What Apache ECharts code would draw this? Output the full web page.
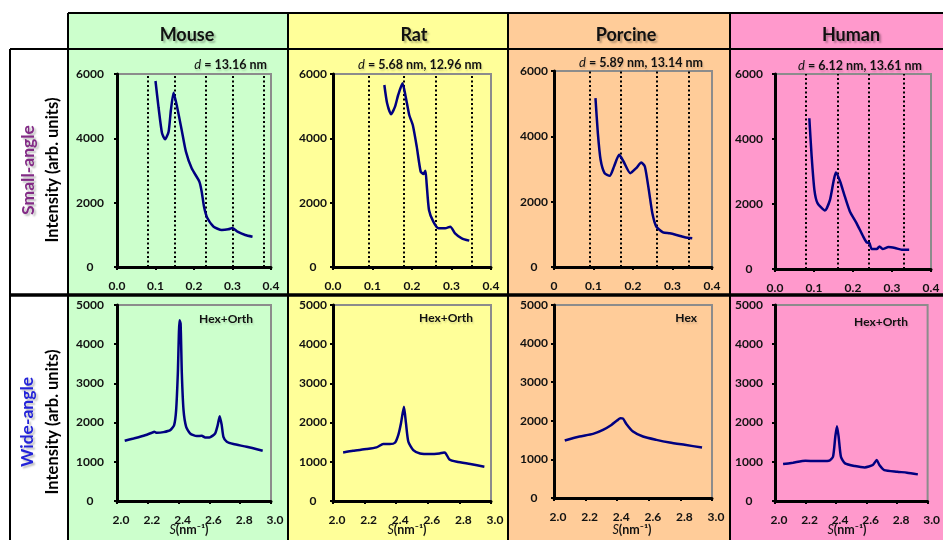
<!DOCTYPE html>
<html><head><meta charset="utf-8">
<script src="https://cdn.jsdelivr.net/npm/echarts@6/dist/echarts.min.js"></script>
<style>html,body{margin:0;padding:0;background:#fff}#c{width:943px;height:540px}</style>
</head><body><div id="c"></div>
<script>
// ---------- DATA ----------
const species = ['Mouse', 'Rat', 'Porcine', 'Human'];
const dLabels = ['13.16 nm', '5.68 nm, 12.96 nm', '5.89 nm, 13.14 nm', '6.12 nm, 13.61 nm'];
const phaseLabels = ['Hex+Orth', 'Hex+Orth', 'Hex', 'Hex+Orth'];
const smallTicksX = [0, 0.1, 0.2, 0.3, 0.4];
const wideTicksX = [2.0, 2.2, 2.4, 2.6, 2.8, 3.0];

// Small-angle: s (nm^-1) and intensity
const mouseSmallS = [0.100,0.108,0.117,0.125,0.134,0.140,0.147,0.156,0.168,0.179,0.194,0.214,0.220,0.226,0.235,0.251,0.272,0.289,0.300,0.313,0.333,0.352];
const mouseSmallI = [5782,4950,4155,3969,4207,4881,5420,4985,4259,3585,3067,2653,2342,1876,1513,1254,1150,1171,1212,1098,995,943];
const ratSmallS = [0.130,0.137,0.147,0.157,0.165,0.176,0.184,0.193,0.202,0.212,0.222,0.229,0.234,0.237,0.243,0.254,0.267,0.284,0.297,0.309,0.326,0.345];
const ratSmallI = [5658,5088,4746,4984,5347,5710,5295,4725,4415,3741,2964,2891,2995,2601,1772,1409,1202,1202,1254,1047,891,819];
const porcineSmallS = [0.105,0.111,0.118,0.128,0.141,0.152,0.165,0.176,0.193,0.208,0.221,0.230,0.240,0.249,0.259,0.276,0.293,0.310,0.331,0.350];
const porcineSmallI = [5172,4099,3281,2872,2790,3077,3434,3230,2872,3026,3199,3077,2361,1646,1237,1063,1032,981,910,879];
const humanSmallS = [0.088,0.094,0.101,0.109,0.128,0.141,0.150,0.156,0.167,0.179,0.192,0.209,0.226,0.235,0.242,0.248,0.261,0.268,0.276,0.291,0.308,0.325,0.344];
const humanSmallI = [4638,3461,2437,2027,1802,2130,2693,2969,2693,2232,1771,1413,1003,819,799,614,614,696,614,676,645,594,594];

// Bragg reflection positions (dotted lines)
const mouseLines = [0.076, 0.152, 0.228, 0.304, 0.380];
const ratLines = [0.088, 0.176, 0.264, 0.352];
const porcineLines = [0.085, 0.170, 0.255, 0.340];
const humanLines = [0.082, 0.163, 0.245, 0.327];

// Wide-angle
const mouseWideS = [2.050,2.108,2.173,2.227,2.242,2.259,2.302,2.346,2.371,2.384,2.395,2.406,2.413,2.421,2.432,2.449,2.475,2.518,2.551,2.572,2.600,2.637,2.654,2.667,2.680,2.691,2.713,2.756,2.842,2.946];
const mouseWideI = [1537,1596,1664,1740,1766,1740,1757,1808,1936,2317,3251,4610,4525,3251,2317,1893,1723,1655,1664,1621,1621,1723,1936,2165,1936,1638,1511,1452,1384,1282];
const ratWideS = [2.064,2.127,2.212,2.275,2.318,2.360,2.392,2.413,2.430,2.449,2.462,2.477,2.508,2.551,2.614,2.674,2.703,2.714,2.737,2.784,2.869,2.958];
const ratWideI = [1239,1282,1324,1367,1452,1452,1486,1681,1978,2402,1978,1511,1299,1214,1197,1214,1239,1214,1061,1002,942,874];
const porcineWideS = [2.068,2.162,2.247,2.310,2.363,2.399,2.420,2.437,2.458,2.500,2.563,2.648,2.732,2.827,2.937];
const porcineWideI = [1489,1592,1661,1764,1893,2005,2065,2057,1919,1721,1592,1506,1437,1377,1308];
const humanWideS = [2.053,2.118,2.199,2.267,2.353,2.380,2.395,2.406,2.417,2.432,2.459,2.524,2.588,2.641,2.667,2.684,2.716,2.801,2.865,2.936];
const humanWideI = [942,976,1027,1019,1027,1129,1638,1910,1638,1129,959,891,857,917,1044,917,789,747,722,679];

// ---------- LAYOUT ----------
const FONT = 'Lato, "Open Sans", "DejaVu Sans", sans-serif';
const cellColors = ['#CCFFCC', '#FFFF99', '#FFCC99', '#FF99CC'];
const cellX = [68, 288, 508, 730, 943];
const topGrids = [
  {left:117, top:74, width:154, height:193},
  {left:333, top:74, width:158, height:193},
  {left:554, top:71, width:158, height:196},
  {left:775, top:74, width:156, height:195}
];
const botGrids = [
  {left:117, top:305, width:154, height:196},
  {left:333, top:305, width:158, height:196},
  {left:554, top:305, width:158, height:193},
  {left:775, top:305, width:156, height:196}
];
const yMargins = [27, 20, 20, 26];
const headerCx = [187, 414, 626, 851];
const dPos = [[267,65],[482,65],[703,63],[922,66]];
const phasePos = [[253,319],[473,318],[697,318],[908,322]];
const sTitleCx = [189, 407, 632, 847];

const smallData = [[mouseSmallS,mouseSmallI],[ratSmallS,ratSmallI],[porcineSmallS,porcineSmallI],[humanSmallS,humanSmallI]];
const wideData = [[mouseWideS,mouseWideI],[ratWideS,ratWideI],[porcineWideS,porcineWideI],[humanWideS,humanWideI]];
const braggLines = [mouseLines, ratLines, porcineLines, humanLines];
const zip = (a, b) => a.map((v, i) => [v, b[i]]);

const grids = [], xAxes = [], yAxes = [], series = [];
const labelStyle = {fontFamily: FONT, fontWeight: 'bold', fontSize: 12, color: '#111'};

function addPanel(g, xmin, xmax, xint, ymax, yint, fmt, data, lines, ym, xlabPad) {
  const idx = grids.length;
  grids.push(Object.assign({show: true, borderColor: '#8c8c8c', borderWidth: 2, backgroundColor: 'transparent', containLabel: false}, g));
  xAxes.push({
    type: 'value', gridIndex: idx, min: xmin, max: xmax, interval: xint,
    axisLine: {show: true, onZero: false, lineStyle: {color: '#000', width: 3}},
    axisTick: {show: true, length: 3, lineStyle: {color: '#000', width: 2}},
    splitLine: {show: false},
    axisLabel: Object.assign({margin: 13, formatter: fmt, padding: xlabPad}, labelStyle)
  });
  yAxes.push({
    type: 'value', gridIndex: idx, min: 0, max: ymax, interval: yint,
    axisLine: {show: true, onZero: false, lineStyle: {color: '#000', width: 3}},
    axisTick: {show: true, length: 3, lineStyle: {color: '#000', width: 2}},
    splitLine: {show: false},
    axisLabel: Object.assign({margin: ym, align: 'center', formatter: v => String(v)}, labelStyle)
  });
  const s = {
    type: 'line', xAxisIndex: idx, yAxisIndex: idx, data: data, showSymbol: false,
    smooth: 0.2, lineStyle: {color: '#000080', width: 2.5}, itemStyle: {color: '#000080'}, z: 5
  };
  if (lines) {
    s.markLine = {
      silent: true, symbol: ['none', 'none'], animation: false,
      label: {show: false},
      lineStyle: {type: [2, 2.5], color: '#000', width: 2},
      data: lines.map(v => ({xAxis: v}))
    };
  }
  series.push(s);
}

for (let i = 0; i < 4; i++) {
  const fmtSmall = (i === 2) ? (v => v === 0 ? '0' : v.toFixed(1)) : (v => v.toFixed(1));
  addPanel(topGrids[i], 0, 0.4, 0.1, 6000, 2000, fmtSmall, zip(smallData[i][0], smallData[i][1]), braggLines[i], yMargins[i], 0);
}
for (let i = 0; i < 4; i++) {
  addPanel(botGrids[i], 2.0, 3.0, 0.2, 5000, 1000, v => v.toFixed(1), zip(wideData[i][0], wideData[i][1]), null, yMargins[i], [0,0,0,8]);
}

// ---------- GRAPHICS (table, texts) ----------
const graphic = [];
for (let i = 0; i < 4; i++) {
  graphic.push({type: 'rect', z: -10, shape: {x: cellX[i], y: 13, width: cellX[i+1] - cellX[i], height: 540}, style: {fill: cellColors[i]}});
}
const L = (x1, y1, x2, y2, w) => graphic.push({type: 'line', z: 50, shape: {x1, y1, x2, y2}, style: {stroke: '#000', lineWidth: w || 2}});
L(68, 13, 943, 13);
L(10, 49, 943, 49);
L(10, 295, 943, 295, 3.5);
L(10, 49, 10, 540);
for (let i = 0; i < 4; i++) L(cellX[i], 13, cellX[i], 540);

const shadow = {textShadowColor: 'rgba(0,0,0,0.28)', textShadowBlur: 2, textShadowOffsetX: 2, textShadowOffsetY: 2};
for (let i = 0; i < 4; i++) {
  graphic.push({type: 'text', z: 60, x: headerCx[i], y: 35, style: Object.assign({
    text: species[i], fontFamily: FONT, fontWeight: 'bold', fontSize: 18, fill: '#111', textAlign: 'center', textVerticalAlign: 'middle'}, shadow)});
  graphic.push({type: 'text', z: 60, x: dPos[i][0], y: dPos[i][1], style: {
    text: '{i|d}{b| = ' + dLabels[i] + '}', textAlign: 'right', textVerticalAlign: 'middle',
    rich: {
      i: {fontFamily: FONT, fontStyle: 'italic', fontSize: 13, fill: '#111'},
      b: {fontFamily: FONT, fontWeight: 'bold', fontSize: 12.5, fill: '#111'}
    },
    textShadowColor: 'rgba(0,0,0,0.15)', textShadowBlur: 2, textShadowOffsetX: 1, textShadowOffsetY: 2}});
  graphic.push({type: 'text', z: 60, x: phasePos[i][0], y: phasePos[i][1], style: {
    text: phaseLabels[i], fontFamily: FONT, fontWeight: 'bold', fontSize: 12, fill: '#111', textAlign: 'right', textVerticalAlign: 'middle',
    textShadowColor: 'rgba(0,0,0,0.15)', textShadowBlur: 2, textShadowOffsetX: 1, textShadowOffsetY: 2}});
  graphic.push({type: 'text', z: 60, x: sTitleCx[i], y: 530, style: {
    text: '{i|S}{n|(nm\u207B\u00B9)}', textAlign: 'center', textVerticalAlign: 'middle',
    rich: {
      i: {fontFamily: FONT, fontStyle: 'italic', fontSize: 12.5, fill: '#111'},
      n: {fontFamily: FONT, fontWeight: 'bold', fontSize: 12.5, fill: '#111'}
    }}});
}
const rowLabel = (txt, x, y, color, size, sh) => graphic.push({type: 'text', z: 60, x: x, y: y, rotation: Math.PI / 2, style: Object.assign({
  text: txt, fontFamily: FONT, fontWeight: 'bold', fontSize: size, fill: color, textAlign: 'center', textVerticalAlign: 'middle'}, sh ? {textShadowColor: 'rgba(0,0,0,0.25)', textShadowBlur: 2, textShadowOffsetX: 2, textShadowOffsetY: 2} : {})});
rowLabel('Small-angle', 28, 170, '#832B86', 17.5, true);
rowLabel('Intensity (arb. units)', 53, 170, '#000', 16.5, false);
rowLabel('Wide-angle', 27, 422, '#2323D8', 17.5, true);
rowLabel('Intensity (arb. units)', 53, 422, '#000', 16.5, false);

const chart = echarts.init(document.getElementById('c'), null, {renderer: 'canvas'});
chart.setOption({
  animation: false,
  backgroundColor: '#fff',
  grid: grids, xAxis: xAxes, yAxis: yAxes, series: series,
  graphic: graphic
});
</script></body></html>
